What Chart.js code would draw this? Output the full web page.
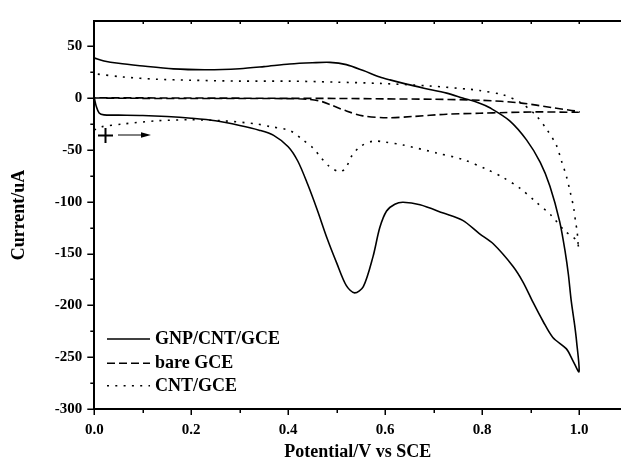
<!DOCTYPE html>
<html><head><meta charset="utf-8">
<script src="https://cdn.jsdelivr.net/npm/chart.js@4/dist/chart.umd.min.js"></script>
<style>html,body{margin:0;padding:0;background:#fff;overflow:hidden}</style>
</head><body>
<canvas id="c" width="621" height="465"></canvas>
<script>
// ---- data ----
const seriesNames = ['GNP/CNT/GCE', 'bare GCE', 'CNT/GCE'];

// GNP/CNT/GCE: forward scan then reverse scan
const gnpPotential = [0.000,0.004,0.010,0.020,0.050,0.100,0.150,0.200,0.250,0.300,0.340,0.370,0.400,0.420,0.440,0.460,0.480,0.500,0.520,0.537,0.555,0.575,0.589,0.603,0.620,0.637,0.672,0.720,0.760,0.795,0.823,0.864,0.885,0.905,0.926,0.946,0.974,0.987,1.000,
  0.995,0.991,0.984,0.978,0.972,0.960,0.940,0.920,0.892,0.857,0.816,0.795,0.760,0.727,0.680,0.644,0.610,0.589,0.555,0.520,0.486,0.450,0.403,0.350,0.300,0.232,0.163,0.094,0.050,0.020,0.000];
const gnpCurrent = [0,-8,-14.5,-16.3,-16.5,-16.8,-17.8,-19.5,-22,-26.5,-31,-36,-47,-61,-83,-108,-135,-159,-181,-188,-182,-153,-125,-109,-102.5,-100.6,-103,-111,-118,-131,-140.6,-162.5,-178,-197,-215.6,-231,-242,-253,-264,
  -235,-219,-196,-170,-150,-119,-85,-62,-40.6,-22,-9.4,-5,0,4.7,9.5,13.4,17.5,20.3,26.5,32.2,34.4,34,32.8,30.3,28.3,27.3,28.1,31.2,33.5,35.8,38.5];

// bare GCE
const barePotential = [0.000,0.100,0.200,0.300,0.400,0.440,0.470,0.490,0.520,0.554,0.603,0.658,0.727,0.795,0.850,0.912,1.000,
  0.946,0.878,0.800,0.700,0.600,0.500,0.400,0.200,0.000];
const bareCurrent = [0,-0.3,-0.5,-0.5,-0.6,-1.2,-3.5,-7,-12.5,-17.2,-19,-17.8,-15.6,-14.7,-14,-13.4,-13.4,
  -9.4,-4.7,-2.2,-1.2,-0.8,-0.4,-0.3,0,0.2];

// CNT/GCE
const cntPotential = [0.000,0.012,0.060,0.129,0.197,0.266,0.335,0.362,0.403,0.431,0.452,0.465,0.485,0.505,0.518,0.531,0.548,0.575,0.600,0.637,0.706,0.761,0.809,0.843,0.878,0.909,0.943,0.970,0.994,1.000,
  0.998,0.996,0.993,0.989,0.982,0.974,0.964,0.953,0.934,0.909,0.878,0.843,0.795,0.775,0.692,0.589,0.500,0.403,0.300,0.197,0.129,0.060,0.000];
const cntCurrent = [-31,-28,-25,-22,-21,-22,-25,-27.5,-31.3,-40.6,-48.4,-56,-66,-71,-68,-56,-47,-41.6,-42.5,-45.3,-53,-59.4,-68.7,-76.6,-87,-99.4,-113.4,-128,-137,-145,
  -140,-128,-120,-106,-91,-75.6,-61,-45.3,-30.6,-15.6,-4,3.1,7.2,8.4,11.6,14.1,15.3,16.3,16.3,17.2,18.1,20.3,23.4];

// axis ticks
const xTickValues = [0.0, 0.2, 0.4, 0.6, 0.8, 1.0];
const xMinorValues = [0.1, 0.3, 0.5, 0.7, 0.9];
const yTickValues = [-300, -250, -200, -150, -100, -50, 0, 50];
const yMinorValues = [-275, -225, -175, -125, -75, -25, 25];
const xTitle = 'Potential/V vs SCE';
const yTitle = 'Current/uA';

// ---- build ----
const FONT = "'Liberation Serif','Times New Roman',serif";
const pts = (xs, ys) => xs.map((x, i) => ({x: x, y: ys[i]}));
const dashes = [[], [8, 4], [2, 6.3]];
const sets = [[gnpPotential, gnpCurrent], [barePotential, bareCurrent], [cntPotential, cntCurrent]];

const datasets = sets.map((s, i) => ({
  label: seriesNames[i],
  data: pts(s[0], s[1]),
  showLine: true,
  borderColor: '#000',
  backgroundColor: '#000',
  borderWidth: i === 0 ? 1.6 : 1.6,
  borderDash: dashes[i],
  pointRadius: 0,
  tension: 0.3,
  fill: false
}));

const extras = {
  id: 'extras',
  afterDraw(chart) {
    const ctx = chart.ctx, a = chart.chartArea;
    const xs = chart.scales.x, ys = chart.scales.y;
    ctx.save();
    ctx.strokeStyle = '#000';
    ctx.fillStyle = '#000';
    ctx.setLineDash([]);
    // top frame
    ctx.lineWidth = 2;
    ctx.beginPath(); ctx.moveTo(a.left - 1, a.top); ctx.lineTo(a.right, a.top); ctx.stroke();
    // ticks
    ctx.lineWidth = 1.5;
    ctx.beginPath();
    xTickValues.forEach(v => { const p = Math.round(xs.getPixelForValue(v)) + 0.25; ctx.moveTo(p, a.bottom); ctx.lineTo(p, a.bottom + 6); ctx.moveTo(p, a.top); ctx.lineTo(p, a.top + 3); });
    xMinorValues.forEach(v => { const p = Math.round(xs.getPixelForValue(v)) + 0.25; ctx.moveTo(p, a.bottom); ctx.lineTo(p, a.bottom + 4); ctx.moveTo(p, a.top); ctx.lineTo(p, a.top + 3); });
    yTickValues.forEach(v => { const p = Math.round(ys.getPixelForValue(v)) + 0.25; ctx.moveTo(a.left, p); ctx.lineTo(a.left - 7, p); });
    yMinorValues.forEach(v => { const p = Math.round(ys.getPixelForValue(v)) + 0.25; ctx.moveTo(a.left, p); ctx.lineTo(a.left - 4, p); });
    ctx.stroke();
    // legend
    const rows = [339, 363.3, 385.7];
    ctx.font = 'bold 18px ' + FONT;
    ctx.textBaseline = 'middle';
    ctx.textAlign = 'left';
    chart.data.datasets.forEach((ds, i) => {
      ctx.lineWidth = 1.6;
      ctx.setLineDash(ds.borderDash);
      ctx.beginPath(); ctx.moveTo(107, rows[i]); ctx.lineTo(150, rows[i]); ctx.stroke();
      ctx.setLineDash([]);
      ctx.fillText(ds.label, 155, rows[i] + 0.5);
    });
    // scan direction mark: plus and arrow
    ctx.lineWidth = 2;
    ctx.beginPath();
    ctx.moveTo(98, 135.5); ctx.lineTo(113, 135.5);
    ctx.moveTo(105.5, 128); ctx.lineTo(105.5, 143);
    ctx.stroke();
    ctx.lineWidth = 1;
    ctx.beginPath(); ctx.moveTo(118, 135); ctx.lineTo(142, 135); ctx.stroke();
    ctx.beginPath(); ctx.moveTo(141, 132.3); ctx.lineTo(151, 135); ctx.lineTo(141, 137.7); ctx.closePath(); ctx.fill();
    ctx.restore();
  }
};

new Chart(document.getElementById('c'), {
  type: 'scatter',
  data: { datasets: datasets },
  plugins: [extras],
  options: {
    responsive: false,
    animation: false,
    devicePixelRatio: 1,
    layout: { padding: { top: 11, right: 0, left: 0, bottom: 0 } },
    plugins: { legend: { display: false }, tooltip: { enabled: false } },
    scales: {
      x: {
        type: 'linear', min: 0, max: 1.0866,
        afterFit: s => { s.height = 56; },
        afterBuildTicks: s => { s.ticks = xTickValues.map(v => ({ value: v })); },
        grid: { display: false, drawTicks: false },
        border: { display: true, color: '#000', width: 2 },
        ticks: { color: '#000', font: { family: FONT, size: 15, weight: 'bold' }, padding: 12, maxRotation: 0, autoSkip: false, callback: v => Number(v).toFixed(1) },
        title: { display: true, text: xTitle, color: '#000', font: { family: FONT, size: 18, weight: 'bold' }, padding: { top: 0, bottom: 2 } }
      },
      y: {
        type: 'linear', min: -300, max: 74.3,
        afterFit: s => { s.width = 94.3; },
        afterBuildTicks: s => { s.ticks = yTickValues.map(v => ({ value: v })); },
        grid: { display: false, drawTicks: false },
        border: { display: true, color: '#000', width: 2 },
        ticks: { color: '#000', font: { family: FONT, size: 15, weight: 'bold' }, padding: 12, autoSkip: false, callback: v => String(v) },
        title: { display: true, text: yTitle, color: '#000', font: { family: FONT, size: 18, weight: 'bold' }, padding: { top: 9, bottom: 0 } }
      }
    }
  }
});
</script>
</body></html>
